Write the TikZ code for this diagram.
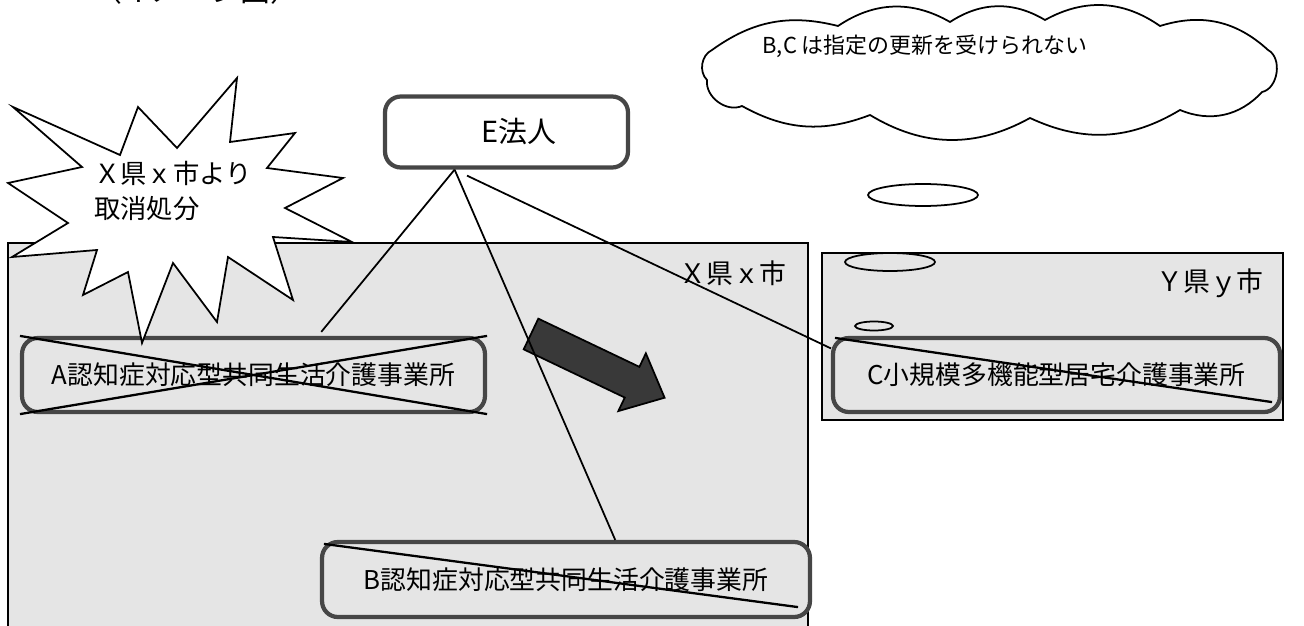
\documentclass[tikz,border=0pt]{standalone}
\usepackage{fontspec}
\setmainfont{Noto Sans CJK JP}
\usetikzlibrary{shapes, positioning, calc}

\newcommand{\officefont}{\fontsize{14.7}{17}\selectfont}
\newcommand{\corpfont}{\fontsize{16.5}{19}\selectfont}
\newcommand{\areafont}{\fontsize{15.3}{18}\selectfont}
\newcommand{\notefont}{\fontsize{15}{19.8}\selectfont}
\newcommand{\cloudfont}{\fontsize{12.5}{15}\selectfont}
\newcommand{\headfont}{\fontsize{17}{20}\selectfont}

\tikzset{
  office/.style={draw=gray!55!black, line width=2.4pt, rounded corners=9pt, fill=gray!20, inner sep=0pt, font=\officefont},
  area/.style={draw=black, line width=1pt, fill=gray!20},
  link/.style={line width=1pt},
  cross/.style={line width=1.3pt},
  bubble/.style={ellipse, draw, line width=1pt, inner sep=0pt},
}

\begin{document}
\begin{tikzpicture}[x=0.02cm, y=-0.02cm]
          \useasboundingbox (0,0) rectangle (1304,625);

          \node[anchor=base west, font=\headfont] (Title) at (86,2) {（イメージ図）};

          \draw[area] (8,243) rectangle (808,660);
          \draw[area] (822,253) rectangle (1283,420);
          \node[font=\areafont] (LabelX) at (733,273) {Ｘ県ｘ市};
          \node[font=\areafont] (LabelY) at (1210,283) {Ｙ県ｙ市};

          \node[office, minimum width=9.26cm, minimum height=1.48cm] (OfficeA) at (253.5,375) {A認知症対応型共同生活介護事業所};
          \node[office, minimum width=9.76cm, minimum height=1.5cm] (OfficeB) at (566,579.5) {B認知症対応型共同生活介護事業所};
          \node[office, minimum width=8.94cm, minimum height=1.48cm] (OfficeC) at (1056.5,375) {C小規模多機能型居宅介護事業所};
          \node[office, fill=white, font=\corpfont, minimum width=4.86cm, minimum height=1.42cm] (Corp) at (506.5,132) {\hspace*{0.5cm}E法人};

          % Draw the burst
          \draw[line width=1pt, fill=white] (13,107) -- (120,155) -- (138,107) -- (177,148) -- (237,78) -- (230,142)
            -- (295,133) -- (267,168) -- (343,178) -- (285,208) -- (352,242) -- (273,237) -- (293,300) -- (228,257)
            -- (217,322) -- (173,263) -- (142,343) -- (128,272) -- (83,295) -- (97,250) -- (12,257) -- (68,223)
            -- (8,183) -- (82,167) -- cycle;
          \node[align=left, anchor=west, font=\notefont] (BurstNote) at (88,191) {Ｘ県ｘ市より\\取消処分};

          % Draw the cloud
          \draw[line width=1pt, fill=white] (712,50) to[bend left=25] (838,26) to[bend left=32] (950,22)
            to[bend left=32] (1045,20) to[bend left=32] (1160,26) to[bend left=30] (1268,50) to[bend left=70] (1262,92)
            to[bend left=35] (1180,110) to[bend left=28] (1030,118) to[bend left=30] (870,115) to[bend left=25] (742,106)
            to[bend left=60] (707,80) to[bend left=55] cycle;
          \node[font=\cloudfont] (CloudNote) at (925,46) {B,C\ は指定の更新を受けられない};
          \node[bubble, minimum width=2.2cm, minimum height=0.44cm] (BubbleA) at (923,195) {};
          \node[bubble, minimum width=1.8cm, minimum height=0.36cm] (BubbleB) at (890,262) {};
          \node[bubble, minimum width=0.76cm, minimum height=0.18cm] (BubbleC) at (874,326) {};

          \begin{scope}[shift={(531,334)}, rotate=-25.5]
            \draw[fill=gray!45!black, line width=1pt] (0,-17) -- (112,-17) -- (112,-32) -- (148,0) -- (112,32) -- (112,17) -- (0,17) -- cycle;
          \end{scope}

          \coordinate (Foot) at ($(Corp.south west)!0.29!(Corp.south east)$);
          \draw[link] (Foot) -- ($(OfficeA.north west)!0.645!(OfficeA.north east)+(0,-4)$);
          \draw[link] (Foot) -- ($(OfficeB.north west)!0.6!(OfficeB.north east)$);
          \draw[link] ($(Corp.south west)!0.34!(Corp.south east)+(0,6)$) -- ($(OfficeC.north west)!0.16!(OfficeC.south west)$);

          \draw[cross] (OfficeA.north west) -- (OfficeA.south east);
          \draw[cross] (OfficeA.south west) -- (OfficeA.north east);
          \draw[cross] ([shift={(4,4)}]OfficeB.north west) -- ([shift={(-14,-12)}]OfficeB.south east);
          \draw[cross] ([shift={(4,2)}]OfficeC.north west) -- ([shift={(-10,-12)}]OfficeC.south east);
        \end{tikzpicture}
\end{document}
